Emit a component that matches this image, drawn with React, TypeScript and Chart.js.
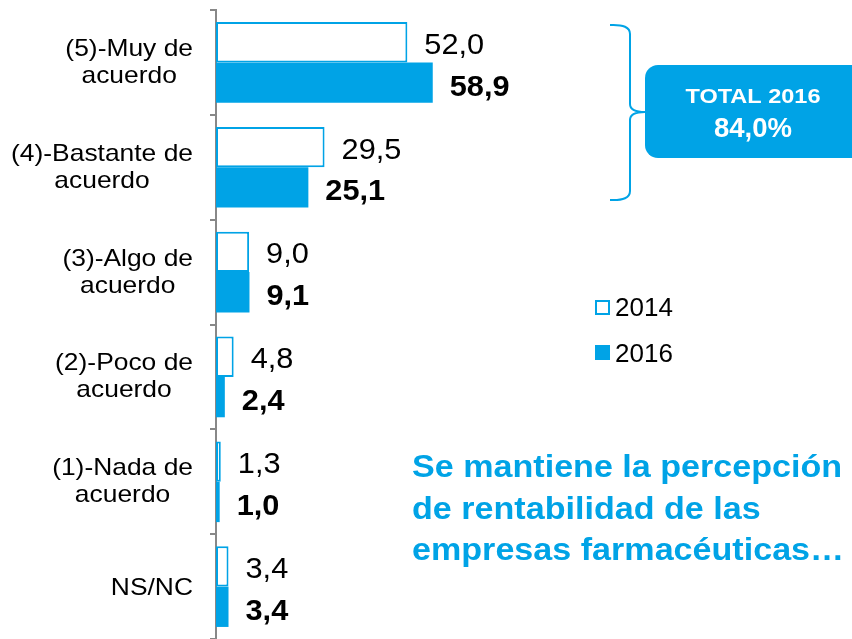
import React, { useEffect, useRef } from 'react';
import { Chart, registerables } from 'chart.js';
Chart.register(...registerables);

const categories: (string | string[])[] = [
  ['(5)-Muy de', 'acuerdo'],
  ['(4)-Bastante de', 'acuerdo'],
  ['(3)-Algo de', 'acuerdo'],
  ['(2)-Poco de', 'acuerdo'],
  ['(1)-Nada de', 'acuerdo'],
  'NS/NC',
];
const values2014 = [52.0, 29.5, 9.0, 4.8, 1.3, 3.4];
const values2016 = [58.9, 25.1, 9.1, 2.4, 1.0, 3.4];
const seriesNames = ['2014', '2016'];
const totalTitle = 'TOTAL 2016';
const totalValue = '84,0%';
const noteLines = ['Se mantiene la percepción', 'de rentabilidad de las', 'empresas farmacéuticas…'];

const BLUE = '#00A3E6';
const FONT = '"Liberation Sans", Arial, sans-serif';

function drawText(ctx: CanvasRenderingContext2D, text: string, x: number, y: number, font: string, color: string, align: CanvasTextAlign, sx = 1) {
  ctx.save();
  ctx.translate(x, y);
  ctx.scale(sx, 1);
  ctx.font = font;
  ctx.fillStyle = color;
  ctx.textAlign = align;
  ctx.textBaseline = 'alphabetic';
  ctx.fillText(text, 0, 0);
  ctx.restore();
}

const fmt = (v: number) => v.toFixed(1).replace('.', ',');

const decorPlugin = {
  id: 'decor',
  afterDraw(chart: any) {
    const ctx: CanvasRenderingContext2D = chart.ctx;
    // y category labels (right-aligned block, centered lines)
    const yScale = chart.scales.y;
    const rightEdge = 193;
    const labelFont = `24px ${FONT}`;
    const sx = 1.1;
    categories.forEach((lab, i) => {
      const cy = yScale.getPixelForValue(i);
      const lines = Array.isArray(lab) ? lab : [lab];
      ctx.save();
      ctx.font = labelFont;
      const widths = lines.map((l) => ctx.measureText(l).width * sx);
      ctx.restore();
      const bw = Math.max(...widths);
      const cx = rightEdge - bw / 2;
      if (lines.length === 2) {
        drawText(ctx, lines[0], cx, cy - 6.5, labelFont, '#000', 'center', sx);
        drawText(ctx, lines[1], cx, cy + 20.5, labelFont, '#000', 'center', sx);
      } else {
        drawText(ctx, lines[0], cx, cy + 8.5, labelFont, '#000', 'center', sx);
      }
    });

    // value labels
    chart.data.datasets.forEach((ds: any, di: number) => {
      const meta = chart.getDatasetMeta(di);
      meta.data.forEach((el: any, i: number) => {
        const v = ds.data[i];
        const font = di === 0 ? `29px ${FONT}` : `bold 29px ${FONT}`;
        drawText(ctx, fmt(v), el.x + 17, el.y + (di === 0 ? 11.5 : 13), font, '#000', 'left', 1.06);
      });
    });

    // legend
    ctx.save();
    ctx.fillStyle = '#fff';
    ctx.fillRect(596, 301, 13, 13);
    ctx.strokeStyle = BLUE;
    ctx.lineWidth = 2;
    ctx.strokeRect(596, 301, 13, 13);
    ctx.fillStyle = BLUE;
    ctx.fillRect(595, 345, 15, 15);
    ctx.restore();
    drawText(ctx, seriesNames[0], 615, 316, `26px ${FONT}`, '#000', 'left');
    drawText(ctx, seriesNames[1], 615, 362, `26px ${FONT}`, '#000', 'left');

    // brace
    ctx.save();
    ctx.strokeStyle = BLUE;
    ctx.lineWidth = 2;
    ctx.beginPath();
    ctx.moveTo(610, 25);
    ctx.quadraticCurveTo(630, 24, 630, 34);
    ctx.lineTo(630, 104);
    ctx.quadraticCurveTo(630, 112, 645, 112);
    ctx.quadraticCurveTo(630, 112, 630, 120);
    ctx.lineTo(630, 191);
    ctx.quadraticCurveTo(630, 201, 610, 200);
    ctx.stroke();
    ctx.restore();

    // total box
    ctx.save();
    ctx.fillStyle = BLUE;
    ctx.beginPath();
    (ctx as any).roundRect(645, 65, 230, 93, 13);
    ctx.fill();
    ctx.restore();
    drawText(ctx, totalTitle, 753, 103, `bold 21px ${FONT}`, '#fff', 'center', 1.12);
    drawText(ctx, totalValue, 753, 137, `bold 27px ${FONT}`, '#fff', 'center', 1.02);

    // note text
    const baselines = [477, 519, 560];
    noteLines.forEach((t, i) => {
      drawText(ctx, t, 412, baselines[i], `bold 31px ${FONT}`, BLUE, 'left', 1.1);
    });
  },
};

export default function App() {
  const ref = useRef<HTMLCanvasElement>(null);
  useEffect(() => {
    if (!ref.current) return;
    const chart = new Chart(ref.current, {
      type: 'bar',
      data: {
        labels: categories as any,
        datasets: [
          {
            label: seriesNames[0],
            data: values2014,
            backgroundColor: '#ffffff',
            borderColor: BLUE,
            borderWidth: 2,
            borderSkipped: false,
          },
          {
            label: seriesNames[1],
            data: values2016,
            backgroundColor: BLUE,
            borderColor: BLUE,
            borderWidth: 0,
          },
        ],
      },
      options: {
        indexAxis: 'y',
        responsive: false,
        animation: false,
        events: [],
        categoryPercentage: 0.77,
        barPercentage: 1,
        layout: { padding: { top: 10, right: 268, bottom: 0, left: 0 } },
        plugins: { legend: { display: false }, tooltip: { enabled: false } },
        scales: {
          x: { display: false, min: 0, max: 100 },
          y: {
            afterFit: (s: any) => {
              s.width = 216;
            },
            ticks: { display: false },
            grid: {
              drawOnChartArea: false,
              drawTicks: true,
              tickLength: 6,
              color: '#888',
              lineWidth: 2,
              offset: true,
            },
            border: { display: true, color: '#888', width: 2 },
          },
        },
      } as any,
      plugins: [decorPlugin],
    });
    return () => chart.destroy();
  }, []);
  return (
    <div style={{ position: 'fixed', left: 0, top: 0, width: 852, height: 639, background: '#fff' }}>
      <canvas ref={ref} width={852} height={639} style={{ display: 'block' }} />
    </div>
  );
}
